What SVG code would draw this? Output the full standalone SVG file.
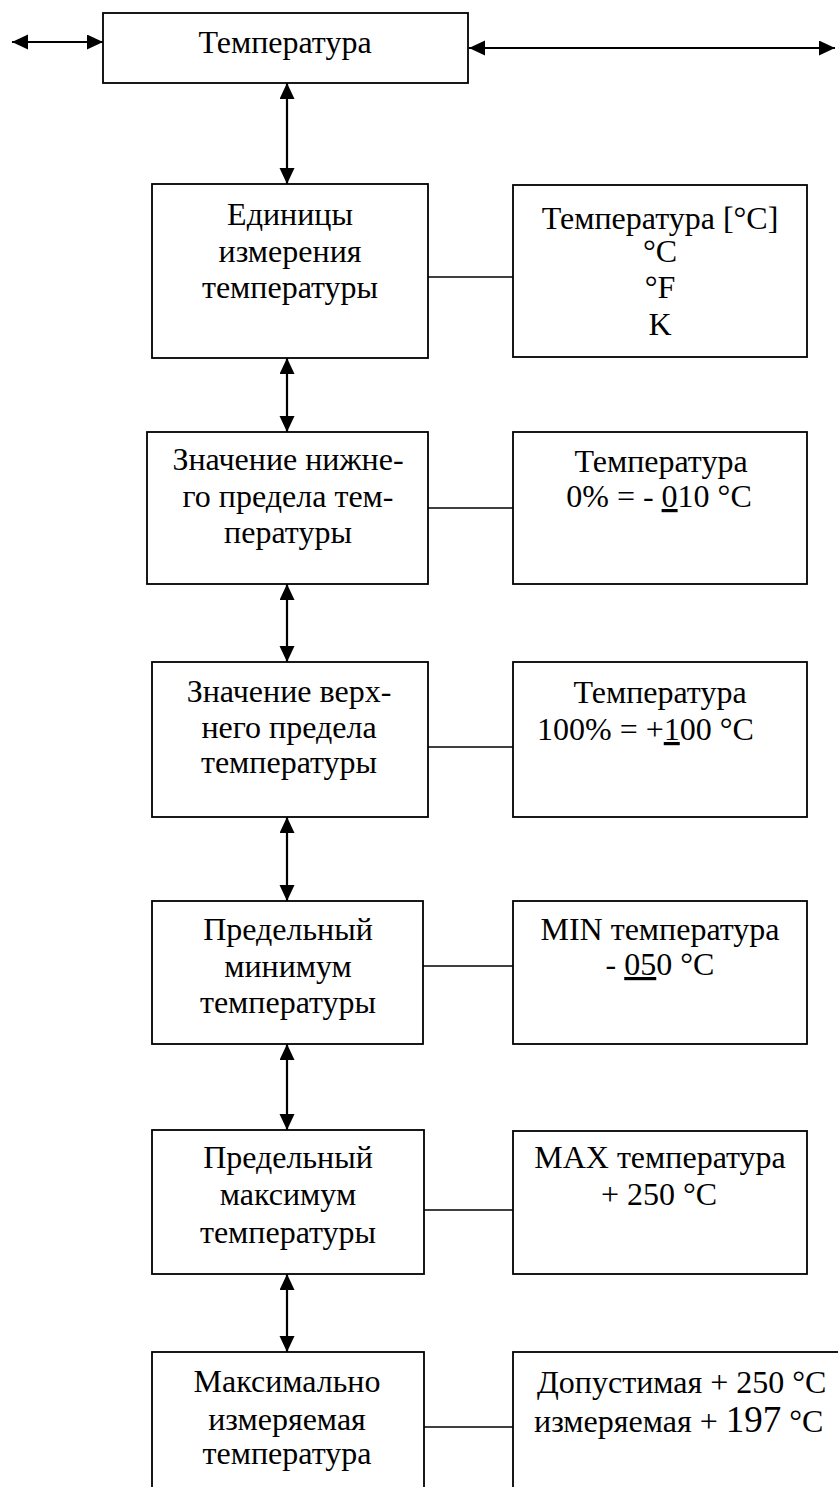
<svg xmlns="http://www.w3.org/2000/svg" width="838" height="1487" viewBox="0 0 838 1487" font-family="'Liberation Serif', 'Times New Roman', 'DejaVu Serif', serif">
<style>
  .box{fill:#fff;stroke:#000;stroke-width:1.8}
  .t{font-family:'Liberation Serif','Times New Roman','DejaVu Serif',serif;font-size:32px;fill:#000;text-anchor:middle}
  .s{text-anchor:start}
  .arr{stroke:#000;stroke-width:2.2;fill:none;marker-start:url(#ah);marker-end:url(#ah)}
  .ln{stroke:#000;stroke-width:1.4;fill:none}
  .u{text-decoration:underline}
</style>
<defs>
  <marker id="ah" markerUnits="userSpaceOnUse" markerWidth="18" markerHeight="16" refX="16" refY="7.5" orient="auto-start-reverse">
    <path d="M0,0 L16,7.5 L0,15 z" fill="#000"/>
  </marker>
</defs>
<rect width="838" height="1487" fill="#fff"/>

<g id="connectors">
  <line class="arr" x1="12" y1="42" x2="103" y2="42"/>
  <line class="arr" x1="469" y1="48" x2="835" y2="48"/>
  <line class="arr" x1="287" y1="83" x2="287" y2="184"/>
  <line class="arr" x1="287" y1="358" x2="287" y2="432"/>
  <line class="arr" x1="287" y1="584" x2="287" y2="662"/>
  <line class="arr" x1="287" y1="817" x2="287" y2="901"/>
  <line class="arr" x1="287" y1="1044" x2="287" y2="1130"/>
  <line class="arr" x1="287" y1="1274" x2="287" y2="1352"/>
  <line class="ln" x1="428" y1="277" x2="513" y2="277"/>
  <line class="ln" x1="428" y1="508" x2="513" y2="508"/>
  <line class="ln" x1="428" y1="747" x2="513" y2="747"/>
  <line class="ln" x1="423" y1="966" x2="513" y2="966"/>
  <line class="ln" x1="424" y1="1210" x2="513" y2="1210"/>
  <line class="ln" x1="424" y1="1427" x2="513" y2="1427"/>
</g>

<g id="n0">
  <rect class="box" x="103" y="13" width="365" height="70"/>
  <text class="t" x="285" y="53">Температура</text>
</g>

<g id="n1">
  <rect class="box" x="152" y="184" width="276" height="174"/>
  <text class="t" x="290" y="225">Единицы</text>
  <text class="t" x="290" y="262">измерения</text>
  <text class="t" x="290" y="298">температуры</text>
</g>
<g id="n1r">
  <rect class="box" x="513" y="185" width="294" height="172"/>
  <text class="t" x="660" y="229">Температура [°C]</text>
  <text class="t" x="660" y="262">°C</text>
  <text class="t" x="660" y="298">°F</text>
  <text class="t" x="660" y="335">K</text>
</g>

<g id="n2">
  <rect class="box" x="147" y="432" width="281" height="152"/>
  <text class="t" x="288" y="470">Значение нижне-</text>
  <text class="t" x="288" y="507">го предела тем-</text>
  <text class="t" x="288" y="543">пературы</text>
</g>
<g id="n2r">
  <rect class="box" x="513" y="432" width="294" height="152"/>
  <text class="t" x="661" y="472">Температура</text>
  <text class="t" x="659" y="507">0% = - <tspan class="u">0</tspan>10 °C</text>
</g>

<g id="n3">
  <rect class="box" x="152" y="662" width="276" height="155"/>
  <text class="t" x="289" y="702">Значение верх-</text>
  <text class="t" x="289" y="738">него предела</text>
  <text class="t" x="289" y="773">температуры</text>
</g>
<g id="n3r">
  <rect class="box" x="513" y="662" width="294" height="155"/>
  <text class="t" x="660" y="703">Температура</text>
  <text class="t s" x="537" y="740">100% = +<tspan class="u">1</tspan>00 °C</text>
</g>

<g id="n4">
  <rect class="box" x="152" y="901" width="271" height="143"/>
  <text class="t" x="288" y="940">Предельный</text>
  <text class="t" x="288" y="977">минимум</text>
  <text class="t" x="288" y="1013">температуры</text>
</g>
<g id="n4r">
  <rect class="box" x="513" y="901" width="294" height="143"/>
  <text class="t" x="660" y="940">MIN температура</text>
  <text class="t" x="660" y="975">- <tspan class="u">05</tspan>0 °C</text>
</g>

<g id="n5">
  <rect class="box" x="152" y="1130" width="272" height="144"/>
  <text class="t" x="288" y="1168">Предельный</text>
  <text class="t" x="288" y="1205">максимум</text>
  <text class="t" x="288" y="1243">температуры</text>
</g>
<g id="n5r">
  <rect class="box" x="513" y="1131" width="294" height="143"/>
  <text class="t" x="660" y="1168">MAX температура</text>
  <text class="t" x="659" y="1205">+ 250 °C</text>
</g>

<g id="n6">
  <rect class="box" x="152" y="1352" width="272" height="160"/>
  <text class="t" x="287" y="1392">Максимально</text>
  <text class="t" x="287" y="1430">измеряемая</text>
  <text class="t" x="287" y="1464">температура</text>
</g>
<g id="n6r">
  <rect class="box" x="513" y="1352" width="340" height="160"/>
  <text class="t s" x="537" y="1393">Допустимая + 250 °C</text>
  <text class="t s" x="534" y="1432">измеряемая + <tspan font-size="37">197</tspan> °C</text>
</g>
</svg>
